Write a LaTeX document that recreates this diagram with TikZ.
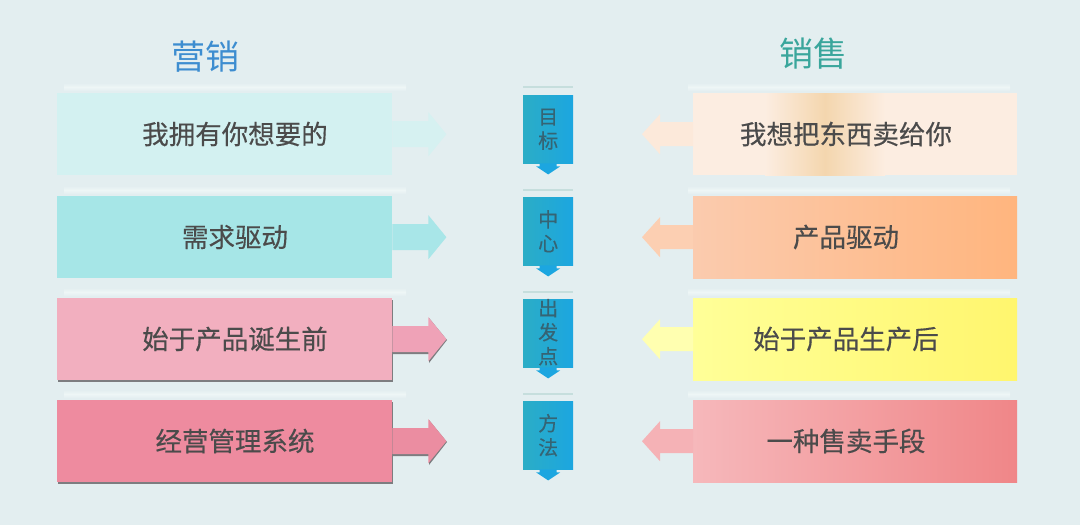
\documentclass[tikz,border=0pt]{standalone}
\usepackage{fontspec}
\setmainfont{Noto Sans CJK SC}
\newfontfamily\boxfont{Noto Sans CJK SC}[FakeBold=0.35]
\definecolor{bg}{HTML}{E3EEF0}
\definecolor{band}{HTML}{EEF6F6}
\definecolor{txt}{HTML}{4B4B4B}
\definecolor{ctxt}{HTML}{356474}
\definecolor{titleL}{HTML}{3D8DD0}
\definecolor{titleR}{HTML}{3AA69C}
\definecolor{lc1}{HTML}{D3F1F1}
\definecolor{la1}{HTML}{D6F1F1}
\definecolor{lc2}{HTML}{A6E6E7}
\definecolor{la2}{HTML}{A8E6E8}
\definecolor{lc3}{HTML}{F2AFBF}
\definecolor{la3}{HTML}{EFA2B7}
\definecolor{lc4}{HTML}{EE8B9F}
\definecolor{la4}{HTML}{EB8DA1}
\definecolor{rc1}{HTML}{FCEDE1}
\definecolor{rs1}{HTML}{F4D6AE}
\definecolor{ra1}{HTML}{FCE9DA}
\definecolor{rc2l}{HTML}{FBCBAE}
\definecolor{rc2r}{HTML}{FFB57E}
\definecolor{ra2}{HTML}{FCCFB2}
\definecolor{rc3l}{HTML}{FFFF98}
\definecolor{rc3r}{HTML}{FFF66E}
\definecolor{ra3}{HTML}{FFFFB0}
\definecolor{rc4l}{HTML}{F6B8BB}
\definecolor{rc4r}{HTML}{F08688}
\definecolor{ra4}{HTML}{F5B2B6}
\definecolor{cbl}{HTML}{2BADC6}
\definecolor{cbr}{HTML}{1CA6E0}
\definecolor{cline}{HTML}{C6DEDD}
\definecolor{shadowc}{HTML}{7D7D80}
\begin{document}
\begin{tikzpicture}[x=1pt,y=-1pt,
  lbox/.style={rectangle, minimum width=335pt, minimum height=82pt, inner sep=0pt, anchor=north west},
  rbox/.style={rectangle, minimum width=324pt, minimum height=82pt, inner sep=0pt, anchor=north west},
  cbox/.style={rectangle, minimum width=50pt, minimum height=68pt, inner sep=0pt, anchor=north west, left color=cbl, right color=cbr},
  btext/.style={font=\boxfont\fontsize{26.5}{30}\selectfont, text=txt, inner sep=0pt},
  ctext/.style={font=\boxfont\fontsize{20}{24}\selectfont, text=ctxt, align=center, inner sep=0pt},
  ttext/.style={font=\fontsize{34}{40}\selectfont, inner sep=0pt},
  refl/.style={top color=bg, bottom color=bg, middle color=band},
]
\useasboundingbox (0,0) rectangle (1080,525);
\fill[bg] (0,0) rectangle (1080,525);

% titles
\node[ttext, text=titleL] (tL) at (205,57) {营销};
\node[ttext, text=titleR] (tR) at (813,54) {销售};

% reflections
\foreach \y in {83,186,288,390}{
  \shade[refl] (64,\y) rectangle (406,{\y+8});
  \shade[refl] (688,\y) rectangle (1010,{\y+8});
  \draw[cline, line width=2pt] (523,{\y+4}) -- (573,{\y+4});
}

% shadows for left rows 3,4
\foreach \c in {339,441}{
  \fill[shadowc] (57.5,{\c-39}) rectangle (392.5,{\c+43});
  \fill[shadowc] (393,{\c-12}) -- (429,{\c-12}) -- (429,{\c-21}) -- (447,{\c+1}) -- (429,{\c+24}) -- (429,{\c+15}) -- (393,{\c+15}) -- cycle;
}

% left boxes
\node[lbox, fill=lc1] (L1) at (57,93) {};
\node[lbox, fill=lc2] (L2) at (57,196) {};
\node[lbox, fill=lc3] (L3) at (57,298) {};
\node[lbox, fill=lc4] (L4) at (57,400) {};
\foreach \n/\c in {L1/la1,L2/la2,L3/la3,L4/la4}{
  \fill[\c] (\n.east) ++(0,-13) -- ++(36,0) -- ++(0,-9) -- ++(18,22) -- ++(-18,22) -- ++(0,-9) -- ++(-36,0) -- cycle;
}
\node[btext] (L1t) at (235,134) {我拥有你想要的};
\node[btext] (L2t) at (235,237) {需求驱动};
\node[btext] (L3t) at (235,339) {始于产品诞生前};
\node[btext] (L4t) at (235,441) {经营管理系统};

% right boxes
\node[rbox, fill=rc1] (R1) at (693,93) {};
\shade[left color=rc1, right color=rc1, middle color=rs1] (765,93) rectangle (885,175);
\node[rbox, left color=rc2l, right color=rc2r] (R2) at (693,196) {};
\node[rbox, left color=rc3l, right color=rc3r] (R3) at (693,298) {};
\node[rbox, left color=rc4l, right color=rc4r] (R4) at (693,400) {};
\foreach \n/\c in {R1/ra1,R2/ra2,R3/ra3,R4/ra4}{
  \fill[\c] (\n.west) ++(0,-12) -- ++(-33,0) -- ++(0,-8) -- ++(-18,20) -- ++(18,20) -- ++(0,-8) -- ++(33,0) -- cycle;
}
\node[btext] (R1t) at (846,134) {我想把东西卖给你};
\node[btext] (R2t) at (846,237) {产品驱动};
\node[btext] (R3t) at (846,339) {始于产品生产后};
\node[btext] (R4t) at (846,441) {一种售卖手段};

% center column
\node[cbox] (C1) at (523,95) {};
\node[cbox] (C2) at (523,197) {};
\node[cbox] (C3) at (523,299) {};
\node[cbox] (C4) at (523,401) {};
\foreach \n in {C1,C2,C3,C4}{
  \fill[cbr] (\n.south) ++(-8.5,0) -- ++(0,3) -- ++(-3.5,0) -- ++(12,8) -- ++(12,-8) -- ++(-3.5,0) -- ++(0,-3) -- cycle;
}
\node[ctext] (C1t) at (C1.center) {目\\标};
\node[ctext] (C2t) at (C2.center) {中\\心};
\node[ctext] (C3t) at ([yshift=1pt]C3.center) {出\\发\\点};
\node[ctext] (C4t) at (C4.center) {方\\法};
\end{tikzpicture}
\end{document}
